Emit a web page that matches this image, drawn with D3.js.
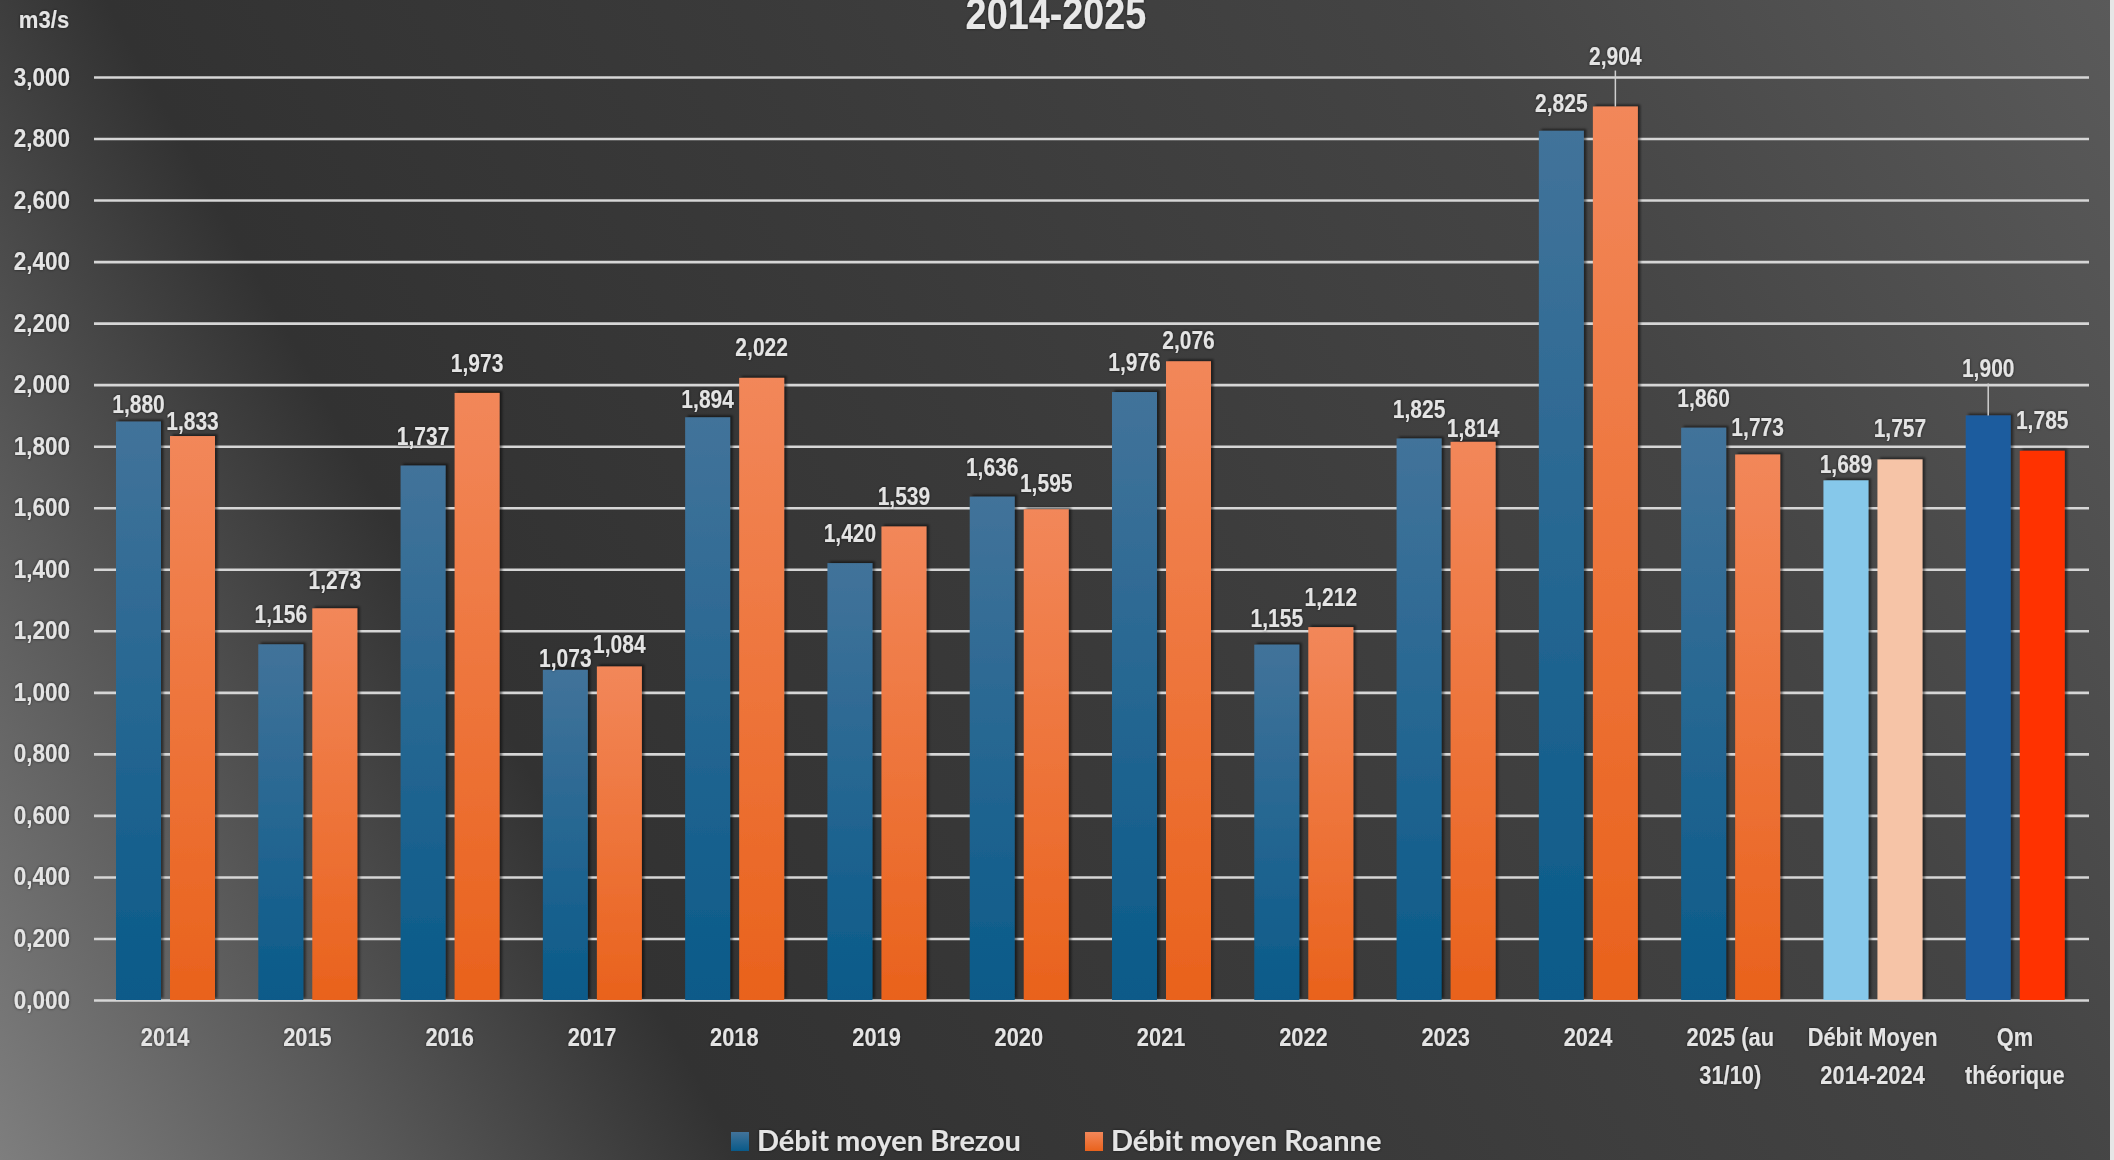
<!DOCTYPE html>
<html>
<head>
<meta charset="utf-8">
<script src="https://cdn.jsdelivr.net/npm/d3@7"></script>
<style>
  html, body { margin: 0; padding: 0; background: #3a3a3a; }
  svg { display: block; }
</style>
</head>
<body>
<svg id="chart" width="2114" height="1160"></svg>
<script>
// ---------- data ----------
const title = "2014-2025";
const unitLabel = "m3/s";
const categories = ["2014", "2015", "2016", "2017", "2018", "2019", "2020", "2021", "2022", "2023", "2024",
  "2025 (au\n31/10)", "Débit Moyen\n2014-2024", "Qm\nthéorique"];
const seriesNames = ["Débit moyen Brezou", "Débit moyen Roanne"];
const brezou = [1.880, 1.156, 1.737, 1.073, 1.894, 1.420, 1.636, 1.976, 1.155, 1.825, 2.825, 1.860, 1.689, 1.900];
const roanne = [1.833, 1.273, 1.973, 1.084, 2.022, 1.539, 1.595, 2.076, 1.212, 1.814, 2.904, 1.773, 1.757, 1.785];
const yTicks = [0, 0.2, 0.4, 0.6, 0.8, 1.0, 1.2, 1.4, 1.6, 1.8, 2.0, 2.2, 2.4, 2.6, 2.8, 3.0];

// ---------- styles / layout ----------
const W = 2114, H = 1160;
const plot = { left: 94, right: 2086, gridRight: 2089, top: 77, bottom: 1000 };
const FONT = '"Liberation Sans", Arial, sans-serif';
const textColor = "#e4e4e4";
const solidFills = {
  "Débit Moyen\n2014-2024": ["#86c8ea", "#f6c4a7"],
  "Qm\nthéorique": ["#1f5c9e", "#ff3300"]
};
// distance (px) from bar top to label baseline, [Brezou, Roanne] per category
const labelLift = [[9, 6], [21, 19], [21, 21], [3, 13], [9, 22], [21, 22], [21, 17], [21, 12],
  [18, 21], [21, 5], [19, 42], [21, 19], [7, 22], [38, 22]];
const leaderLabels = [[10, 1], [13, 0]];

const fmt = d3.formatLocale({ decimal: ",", thousands: " ", grouping: [3], currency: ["", ""] }).format(".3f");

function condense(sel, k) {
  sel.each(function () {
    const w = this.getComputedTextLength();
    d3.select(this).attr("textLength", w * k).attr("lengthAdjust", "spacingAndGlyphs");
  });
}

const svg = d3.select("#chart");
const defs = svg.append("defs");

const bg = defs.append("linearGradient").attr("id", "bg")
  .attr("gradientUnits", "userSpaceOnUse")
  .attr("x1", 0).attr("y1", H).attr("x2", W).attr("y2", 0);
[[0, "#7e7e7e"], [0.14, "#585858"], [0.27, "#323232"], [0.5, "#3a3a3a"], [0.75, "#444444"], [1, "#5a5a5a"]]
  .forEach(([o, c]) => bg.append("stop").attr("offset", o).attr("stop-color", c));

function vgrad(id, top, bottom) {
  const g = defs.append("linearGradient").attr("id", id)
    .attr("x1", 0).attr("y1", 0).attr("x2", 0).attr("y2", 1);
  g.append("stop").attr("offset", 0).attr("stop-color", top);
  g.append("stop").attr("offset", 1).attr("stop-color", bottom);
}
vgrad("gBlue", "#42739a", "#095a89");
vgrad("gOrange", "#f2875a", "#e9621c");

const shadow = defs.append("filter").attr("id", "shadow")
  .attr("x", "-20%").attr("y", "-20%").attr("width", "140%").attr("height", "140%");
shadow.append("feDropShadow").attr("dx", 2.5).attr("dy", -2).attr("stdDeviation", 1.2)
  .attr("flood-color", "#000").attr("flood-opacity", 0.5);

const tshadow = defs.append("filter").attr("id", "tshadow")
  .attr("x", "-20%").attr("y", "-30%").attr("width", "140%").attr("height", "160%");
tshadow.append("feDropShadow").attr("dx", 0).attr("dy", 0).attr("stdDeviation", 1.5)
  .attr("flood-color", "#000").attr("flood-opacity", 0.6);

svg.append("rect").attr("width", W).attr("height", H).attr("fill", "url(#bg)");
svg.append("rect").attr("x", 2110).attr("y", 0).attr("width", 4).attr("height", H).attr("fill", "#e6e6e6");

// scales
const x0 = d3.scaleBand().domain(categories).range([plot.left, plot.right]).paddingInner(0).paddingOuter(0);
const x1 = d3.scaleBand().domain([0, 1]).range([22, 121]).paddingInner(0.167).paddingOuter(0);
const y = d3.scaleLinear().domain([0, 3]).range([plot.bottom, plot.top]);

// gridlines
const grid = svg.append("g").attr("transform", `translate(${plot.left},0)`)
  .call(d3.axisLeft(y).tickValues(yTicks).tickSize(-(plot.gridRight - plot.left)).tickFormat(""));
grid.select(".domain").remove();
grid.selectAll("line").attr("stroke", "#d6d6d6").attr("stroke-width", 2.6);

// y axis labels
const yAxis = svg.append("g").attr("transform", `translate(${plot.left},0)`)
  .call(d3.axisLeft(y).tickValues(yTicks).tickSize(0).tickPadding(24).tickFormat(fmt));
yAxis.select(".domain").remove();
yAxis.selectAll("text")
  .attr("fill", textColor).attr("font-family", FONT).attr("font-weight", 700)
  .attr("font-size", 25).attr("filter", "url(#tshadow)")
  .call(condense, 0.9);

// bars
const rows = categories.map((c, i) => ({ cat: c, i, vals: [brezou[i], roanne[i]] }));
const groups = svg.append("g").selectAll("g").data(rows).join("g")
  .attr("transform", d => `translate(${x0(d.cat)},0)`);

groups.selectAll("rect").data(d => d.vals.map((v, s) => ({ v, s, cat: d.cat })))
  .join("rect")
  .attr("x", d => x1(d.s))
  .attr("width", x1.bandwidth())
  .attr("y", d => y(d.v))
  .attr("height", d => y(0) - y(d.v))
  .attr("fill", d => solidFills[d.cat] ? solidFills[d.cat][d.s] : (d.s === 0 ? "url(#gBlue)" : "url(#gOrange)"))
  .attr("filter", "url(#shadow)");

// value labels
const isLeader = (i, s) => leaderLabels.some(([a, b]) => a === i && b === s);
groups.each(function (d) {
  const g = d3.select(this);
  d.vals.forEach((v, s) => {
    const cx = x1(s) + x1.bandwidth() / 2;
    const top = y(v);
    const base = top - labelLift[d.i][s];
    if (isLeader(d.i, s)) {
      g.append("line").attr("x1", cx).attr("x2", cx)
        .attr("y1", base + 6).attr("y2", top)
        .attr("stroke", "#cfcfcf").attr("stroke-width", 1.5);
    }
    g.append("text")
      .attr("x", cx).attr("y", base)
      .attr("text-anchor", "middle")
      .attr("fill", textColor).attr("font-family", FONT).attr("font-weight", 700)
      .attr("font-size", 25).attr("filter", "url(#tshadow)")
      .text(fmt(v))
      .call(condense, 0.84);
  });
});

// category labels
const xLab = svg.append("g");
categories.forEach(c => {
  const lines = c.split("\n");
  const cx = x0(c) + x0.bandwidth() / 2;
  const t = xLab.append("text")
    .attr("x", cx).attr("y", 1046)
    .attr("text-anchor", "middle")
    .attr("fill", textColor).attr("font-family", FONT).attr("font-weight", 700)
    .attr("font-size", 26).attr("filter", "url(#tshadow)");
  lines.forEach((ln, k) => t.append("tspan").attr("x", cx)
    .attr("dy", k === 0 ? 0 : 38).text(ln));
  t.selectAll("tspan").call(condense, 0.84);
});

// title + unit
svg.append("text").attr("x", 1056).attr("y", 29).attr("text-anchor", "middle")
  .attr("fill", "#e8e8e8").attr("font-family", FONT).attr("font-weight", 700)
  .attr("font-size", 45).attr("filter", "url(#tshadow)").text(title)
  .call(condense, 0.84);
svg.append("text").attr("x", 44).attr("y", 28).attr("text-anchor", "middle")
  .attr("fill", textColor).attr("font-family", FONT).attr("font-weight", 700)
  .attr("font-size", 24).attr("filter", "url(#tshadow)").text(unitLabel)
  .call(condense, 0.92);

// legend
const legend = svg.append("g");
const legendItems = [
  { name: seriesNames[0], fill: "url(#gBlue)", x: 731 },
  { name: seriesNames[1], fill: "url(#gOrange)", x: 1085 }
];
legendItems.forEach(it => {
  legend.append("rect").attr("x", it.x).attr("y", 1132).attr("width", 18).attr("height", 19)
    .attr("fill", it.fill);
  legend.append("text").attr("x", it.x + 26).attr("y", 1151)
    .attr("fill", textColor).attr("font-family", "Lato, 'Open Sans', sans-serif").attr("font-weight", 700)
    .attr("font-size", 29).attr("filter", "url(#tshadow)").text(it.name);
});
</script>
</body>
</html>
